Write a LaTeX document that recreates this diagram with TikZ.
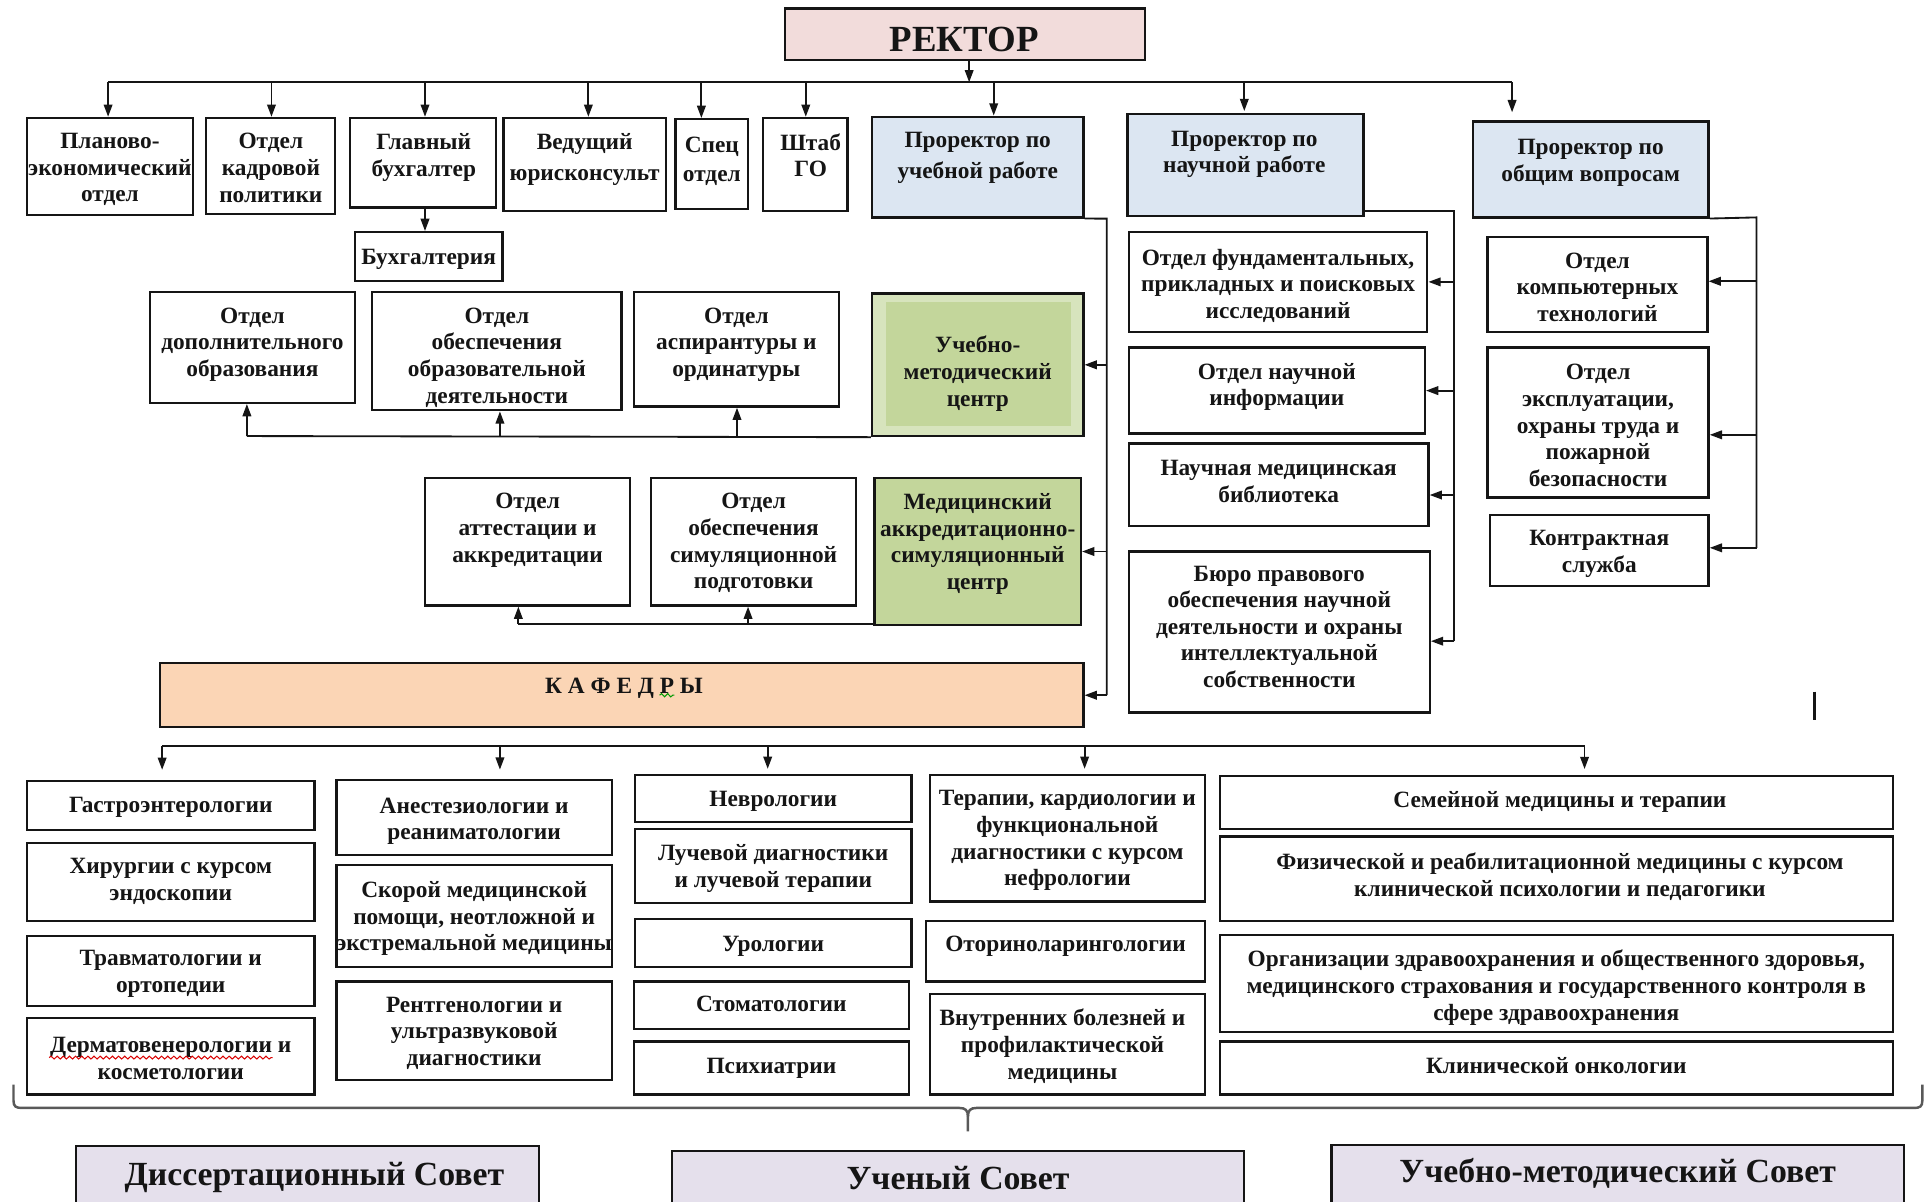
\documentclass[tikz,border=0pt]{standalone}
\usepackage{fontspec}
\setmainfont{Liberation Serif}
\usetikzlibrary{arrows.meta,decorations.pathmorphing}
\definecolor{pinkR}{HTML}{F2DCDB}
\definecolor{blueP}{HTML}{DCE6F2}
\definecolor{greenA}{HTML}{D7E4BD}
\definecolor{greenB}{HTML}{C3D69B}
\definecolor{peach}{HTML}{FBD5B5}
\definecolor{lav}{HTML}{E5E0EC}
\definecolor{ink}{HTML}{151515}
\tikzset{
 box/.style={draw=ink, line width=1.1pt, rectangle, inner sep=0pt, fill=white},
 txt/.style={font=\fontsize{11.4}{13}\selectfont\bfseries, text=ink, align=center, inner sep=0pt, anchor=north, execute at begin node={\rule{0pt}{10pt}}},
 big/.style={font=\fontsize{18}{21}\selectfont\bfseries, text=ink, inner sep=0pt, anchor=base},
 council/.style={font=\fontsize{16.5}{19}\selectfont\bfseries, text=ink, inner sep=0pt, anchor=base},
 ln/.style={draw=ink, line width=0.9pt},
 arr/.style={ln, -{Triangle[length=6pt,width=4.2pt]}},
 bracep/.style={draw=black!65, line width=1.2pt},
}
\newcommand\bx[6]{%
 \pgfmathsetmacro\bw{(#4-#2)*0.6}%
 \pgfmathsetmacro\bh{(#5-#3)*0.6}%
 \node[box,#6,minimum width=\bw pt,minimum height=\bh pt] (#1) at ({(#2+#4)/2},{(#3+#5)/2}) {};}
% multi-line text, first line centred at #3
\newcommand\tx[4]{\node[txt] (#1) at (#2,{#3-6.7}) {#4};}
% single-line text
\newcommand\txs[4]{\node[txt] (#1) at (#2,{#3-10.7}) {#4};}
\begin{document}
\begin{tikzpicture}[x=0.6pt,y=-0.6pt]
\useasboundingbox (0,0) rectangle (1568,978);
\fill[white] (0,0) rectangle (1568,978);

% ---------- top ----------
\bx{rector}{639}{7}{932}{49}{fill=pinkR}
\node[big] (rectort) at (785,42) {РЕКТОР};

\bx{plan}{22}{96}{157}{175}{}
\tx{plant}{89.5}{115}{Планово-\\экономический\\отдел}
\bx{kadr}{168}{96}{273}{174}{}
\tx{kadrt}{220.5}{115}{Отдел\\кадровой\\политики}
\bx{glbuh}{285}{96}{404}{169}{}
\tx{glbuht}{345}{115}{Главный\\бухгалтер}
\bx{jur}{410}{96}{542}{172}{}
\tx{jurt}{476}{115}{Ведущий\\[2pt]юрисконсульт}
\bx{spec}{550}{97}{609}{170}{}
\tx{spect}{579.5}{118}{Спец\\[1pt]отдел}
\bx{shtab}{621}{96}{690}{172}{}
\tx{shtabt}{660}{115}{Штаб\\ГО}
\bx{pr1}{710}{95}{882}{177}{fill=blueP}
\tx{pr1t}{796}{114}{Проректор по\\[2pt]учебной работе}
\bx{pr2}{918}{93}{1110}{176}{fill=blueP}
\tx{pr2t}{1013}{113}{Проректор по\\научной работе}
\bx{pr3}{1199}{99}{1391}{177}{fill=blueP}
\tx{pr3t}{1295}{120}{Проректор по\\общим вопросам}

\bx{buh}{289}{189}{409}{229}{}
\txs{buht}{349}{209}{Бухгалтерия}

% ---------- education block ----------
\bx{dop}{122}{238}{289}{328}{}
\tx{dopt}{205.5}{257}{Отдел\\дополнительного\\образования}
\bx{obr}{303}{238}{506}{334}{}
\tx{obrt}{404.5}{257}{Отдел\\обеспечения\\образовательной\\деятельности}
\bx{asp}{516}{238}{683}{331}{}
\tx{aspt}{599.5}{257}{Отдел\\аспирантуры и\\ординатуры}
\bx{umc}{710}{239}{882}{355}{fill=greenA}
\bx{umcin}{721}{246}{872}{347}{draw=none,fill=greenB}
\tx{umct}{796}{280}{Учебно-\\методический\\центр}

\bx{att}{346}{389}{513}{493}{}
\tx{attt}{429.5}{408}{Отдел\\аттестации и\\аккредитации}
\bx{sim}{530}{389}{697}{493}{}
\tx{simt}{613.5}{408}{Отдел\\обеспечения\\симуляционной\\подготовки}
\bx{masc}{712}{389}{880}{509}{fill=greenB}
\tx{masct}{796}{408}{Медицинский\\аккредитационно-\\симуляционный\\центр}

\bx{kaf}{130}{540}{882}{592}{fill=peach}
\txs{kaft}{508}{558}{К А Ф Е Д Р Ы}
\draw[green!60!black, line width=0.5pt, decorate, decoration={snake, amplitude=0.8pt, segment length=3pt}] (537,566) -- (549,566);

% ---------- science ----------
\bx{fund}{919}{189}{1162}{270}{}
\tx{fundt}{1040.5}{209}{Отдел фундаментальных,\\прикладных и поисковых\\исследований}
\bx{ninf}{919}{283}{1160}{353}{}
\tx{ninft}{1039.5}{302}{Отдел научной\\информации}
\bx{bibl}{919}{361}{1163}{428}{}
\tx{biblt}{1041}{381}{Научная медицинская\\библиотека}
\bx{buro}{919}{449}{1164}{580}{}
\tx{burot}{1041.5}{467}{Бюро правового\\обеспечения научной\\деятельности и охраны\\интеллектуальной\\собственности}

% ---------- general ----------
\bx{comp}{1211}{193}{1390}{270}{}
\tx{compt}{1300.5}{212}{Отдел\\компьютерных\\технологий}
\bx{expl}{1211}{283}{1391}{405}{}
\tx{explt}{1301}{303}{Отдел\\эксплуатации,\\охраны труда и\\пожарной\\безопасности}
\bx{kontr}{1213}{419}{1391}{477}{}
\tx{kontrt}{1302}{438}{Контрактная\\служба}

\draw[ink, line width=1.4pt] (1477,563) -- (1477,586);

% ---------- departments ----------
\bx{g1}{22}{636}{256}{676}{}
\txs{g1t}{139}{655}{Гастроэнтерологии}
\bx{g2}{22}{686}{256}{750}{}
\tx{g2t}{139}{705}{Хирургии с курсом\\эндоскопии}
\bx{g3}{22}{762}{256}{819}{}
\tx{g3t}{139}{780}{Травматологии и\\ортопедии}
\bx{g4}{22}{829}{256}{891}{}
\tx{g4t}{139}{851}{Дерматовенерологии и\\косметологии}
\draw[red!85!black, line width=0.5pt, decorate, decoration={snake, amplitude=0.7pt, segment length=3pt}] (40,861) -- (222,861);

\bx{a1}{274}{635}{498}{696}{}
\tx{a1t}{386}{656}{Анестезиологии и\\реаниматологии}
\bx{a2}{274}{704}{498}{787}{}
\tx{a2t}{386}{724}{Скорой медицинской\\помощи, неотложной и\\экстремальной медицины}
\bx{a3}{274}{799}{498}{879}{}
\tx{a3t}{386}{818}{Рентгенологии и\\ультразвуковой\\диагностики}

\bx{n1}{517}{631}{742}{669}{}
\txs{n1t}{629.5}{650}{Неврологии}
\bx{n2}{517}{675}{742}{735}{}
\tx{n2t}{629.5}{694}{Лучевой диагностики\\и лучевой терапии}
\bx{n3}{517}{748}{742}{787}{}
\txs{n3t}{629.5}{768}{Урологии}
\bx{n4}{516}{799}{740}{838}{}
\txs{n4t}{628}{817}{Стоматологии}
\bx{n5}{516}{848}{740}{891}{}
\txs{n5t}{628}{868}{Психиатрии}

\bx{t1}{757}{631}{981}{734}{}
\tx{t1t}{869}{650}{Терапии, кардиологии и\\функциональной\\диагностики с курсом\\нефрологии}
\bx{t2}{754}{750}{981}{799}{}
\txs{t2t}{867.5}{768}{Оториноларингологии}
\bx{t3}{757}{809}{981}{891}{}
\tx{t3t}{865}{828}{Внутренних болезней и\\профилактической\\медицины}

\bx{s1}{993}{632}{1541}{675}{}
\txs{s1t}{1270}{651}{Семейной медицины и терапии}
\bx{s2}{993}{681}{1541}{750}{}
\tx{s2t}{1270}{701}{Физической и реабилитационной медицины с курсом\\клинической психологии и педагогики}
\bx{s3}{993}{761}{1541}{840}{}
\tx{s3t}{1267}{780}{Организации здравоохранения и общественного здоровья,\\медицинского страхования и государственного контроля в\\сфере здравоохранения}
\bx{s4}{993}{848}{1541}{891}{}
\txs{s4t}{1267}{868}{Клинической онкологии}

% ---------- brace ----------
\draw[bracep] (11,883) -- (11,896) .. controls (11,901) and (13,902) .. (18,902) -- (781,902)
  .. controls (786,902) and (788,904) .. (788,909) -- (788,921);
\draw[bracep] (1565,883) -- (1565,896) .. controls (1565,901) and (1563,902) .. (1558,902) -- (795,902)
  .. controls (790,902) and (788,904) .. (788,909);

% ---------- councils ----------
\begin{scope}
\clip (0,0) rectangle (1568,978);
\bx{cs1}{62}{933}{439}{995}{fill=lav}
\bx{cs2}{547}{937}{1013}{995}{fill=lav}
\bx{cs3}{1084}{932}{1550}{995}{fill=lav}
\end{scope}
\node[council] (cs1t) at (256,965) {Диссертационный Совет};
\node[council] (cs2t) at (780,968) {Ученый Совет};
\node[council] (cs3t) at (1317,963) {Учебно-методический Совет};

% ---------- connectors: top ----------
\coordinate (bus) at (789,67);
\coordinate (tp1) at (88,67);
\coordinate (tp2) at (221,67);
\coordinate (tp3) at (346,67);
\coordinate (tp4) at (479,67);
\coordinate (tp5) at (571,67);
\coordinate (tp6) at (656,67);
\coordinate (tp7) at (809,67);
\coordinate (tp8) at (1013,67);
\coordinate (tp9) at (1231,67);
\draw[arr] (bus |- rector.south) -- (bus);
\draw[ln] (tp1) -- (tp9);
\draw[arr] (tp1) -- (tp1 |- plan.north);
\draw[arr] (tp2) -- (tp2 |- kadr.north);
\draw[arr] (tp3) -- (tp3 |- glbuh.north);
\draw[arr] (tp4) -- (tp4 |- jur.north);
\draw[arr] (tp5) -- (tp5 |- spec.north);
\draw[arr] (tp6) -- (tp6 |- shtab.north);
\draw[arr] (tp7) -- (tp7 |- pr1.north);
\draw[arr, shorten >=1pt] (tp8) -- (tp8 |- pr2.north);
\draw[arr, shorten >=4pt] (tp9) -- (tp9 |- pr3.north);
\draw[arr] (glbuh.south -| tp3) -- (tp3 |- buh.north);

% ---------- connectors: education ----------
\coordinate (v1top) at (901,178);
\coordinate (v1bot) at (901,566);
\draw[ln] (pr1.south east) -- (v1top) -- (v1bot);
\draw[arr] (v1top |- umc.east) -- (umc.east);
\draw[arr] (v1top |- masc.east) -- (masc.east);
\draw[arr] (v1bot) -- (v1bot -| kaf.east);

\coordinate (h2a) at (201,355);
\coordinate (h2b) at (407,355);
\coordinate (h2c) at (600,355);
\draw[ln] (umc.south west) -- (h2a);
\draw[arr] (h2a) -- (h2a |- dop.south);
\draw[arr] (h2b) -- (h2b |- obr.south);
\draw[arr] (h2c) -- (h2c |- asp.south);

\coordinate (h3a) at (422,508);
\coordinate (h3b) at (609,508);
\draw[ln] (masc.west |- h3a) -- (h3a);
\draw[arr] (h3a) -- (h3a |- att.south);
\draw[arr] (h3b) -- (h3b |- sim.south);

% ---------- connectors: science ----------
\coordinate (v2top) at (1184,172);
\coordinate (v2c) at (1184,403);
\coordinate (v2bot) at (1184,522);
\draw[ln] (pr2.east |- v2top) -- (v2top) -- (v2bot);
\draw[arr] (v2top |- fund.east) -- (fund.east);
\draw[arr] (v2top |- ninf.east) -- (ninf.east);
\draw[arr] (v2c) -- (v2c -| bibl.east);
\draw[arr] (v2bot) -- (v2bot -| buro.east);

% ---------- connectors: general ----------
\coordinate (v3top) at (1430,177);
\coordinate (v3a) at (1430,229);
\coordinate (v3b) at (1430,354);
\coordinate (v3bot) at (1430,446);
\draw[ln] (pr3.south east) -- (v3top) -- (v3bot);
\draw[arr] (v3a) -- (v3a -| comp.east);
\draw[arr] (v3b) -- (v3b -| expl.east);
\draw[arr] (v3bot) -- (v3bot -| kontr.east);

% ---------- connectors: departments ----------
\coordinate (k1) at (132,607);
\coordinate (k2) at (407,607);
\coordinate (k3) at (625,607);
\coordinate (k4) at (883,607);
\coordinate (k5) at (1290,607);
\draw[ln] (k1) -- (k5);
\draw[arr, shorten >=5pt] (k1) -- (k1 |- g1.north);
\draw[arr, shorten >=4.5pt] (k2) -- (k2 |- a1.north);
\draw[arr, shorten >=2.5pt] (k3) -- (k3 |- n1.north);
\draw[arr, shorten >=2.5pt] (k4) -- (k4 |- t1.north);
\draw[arr, shorten >=3pt] (k5) -- (k5 |- s1.north);
\end{tikzpicture}
\end{document}
